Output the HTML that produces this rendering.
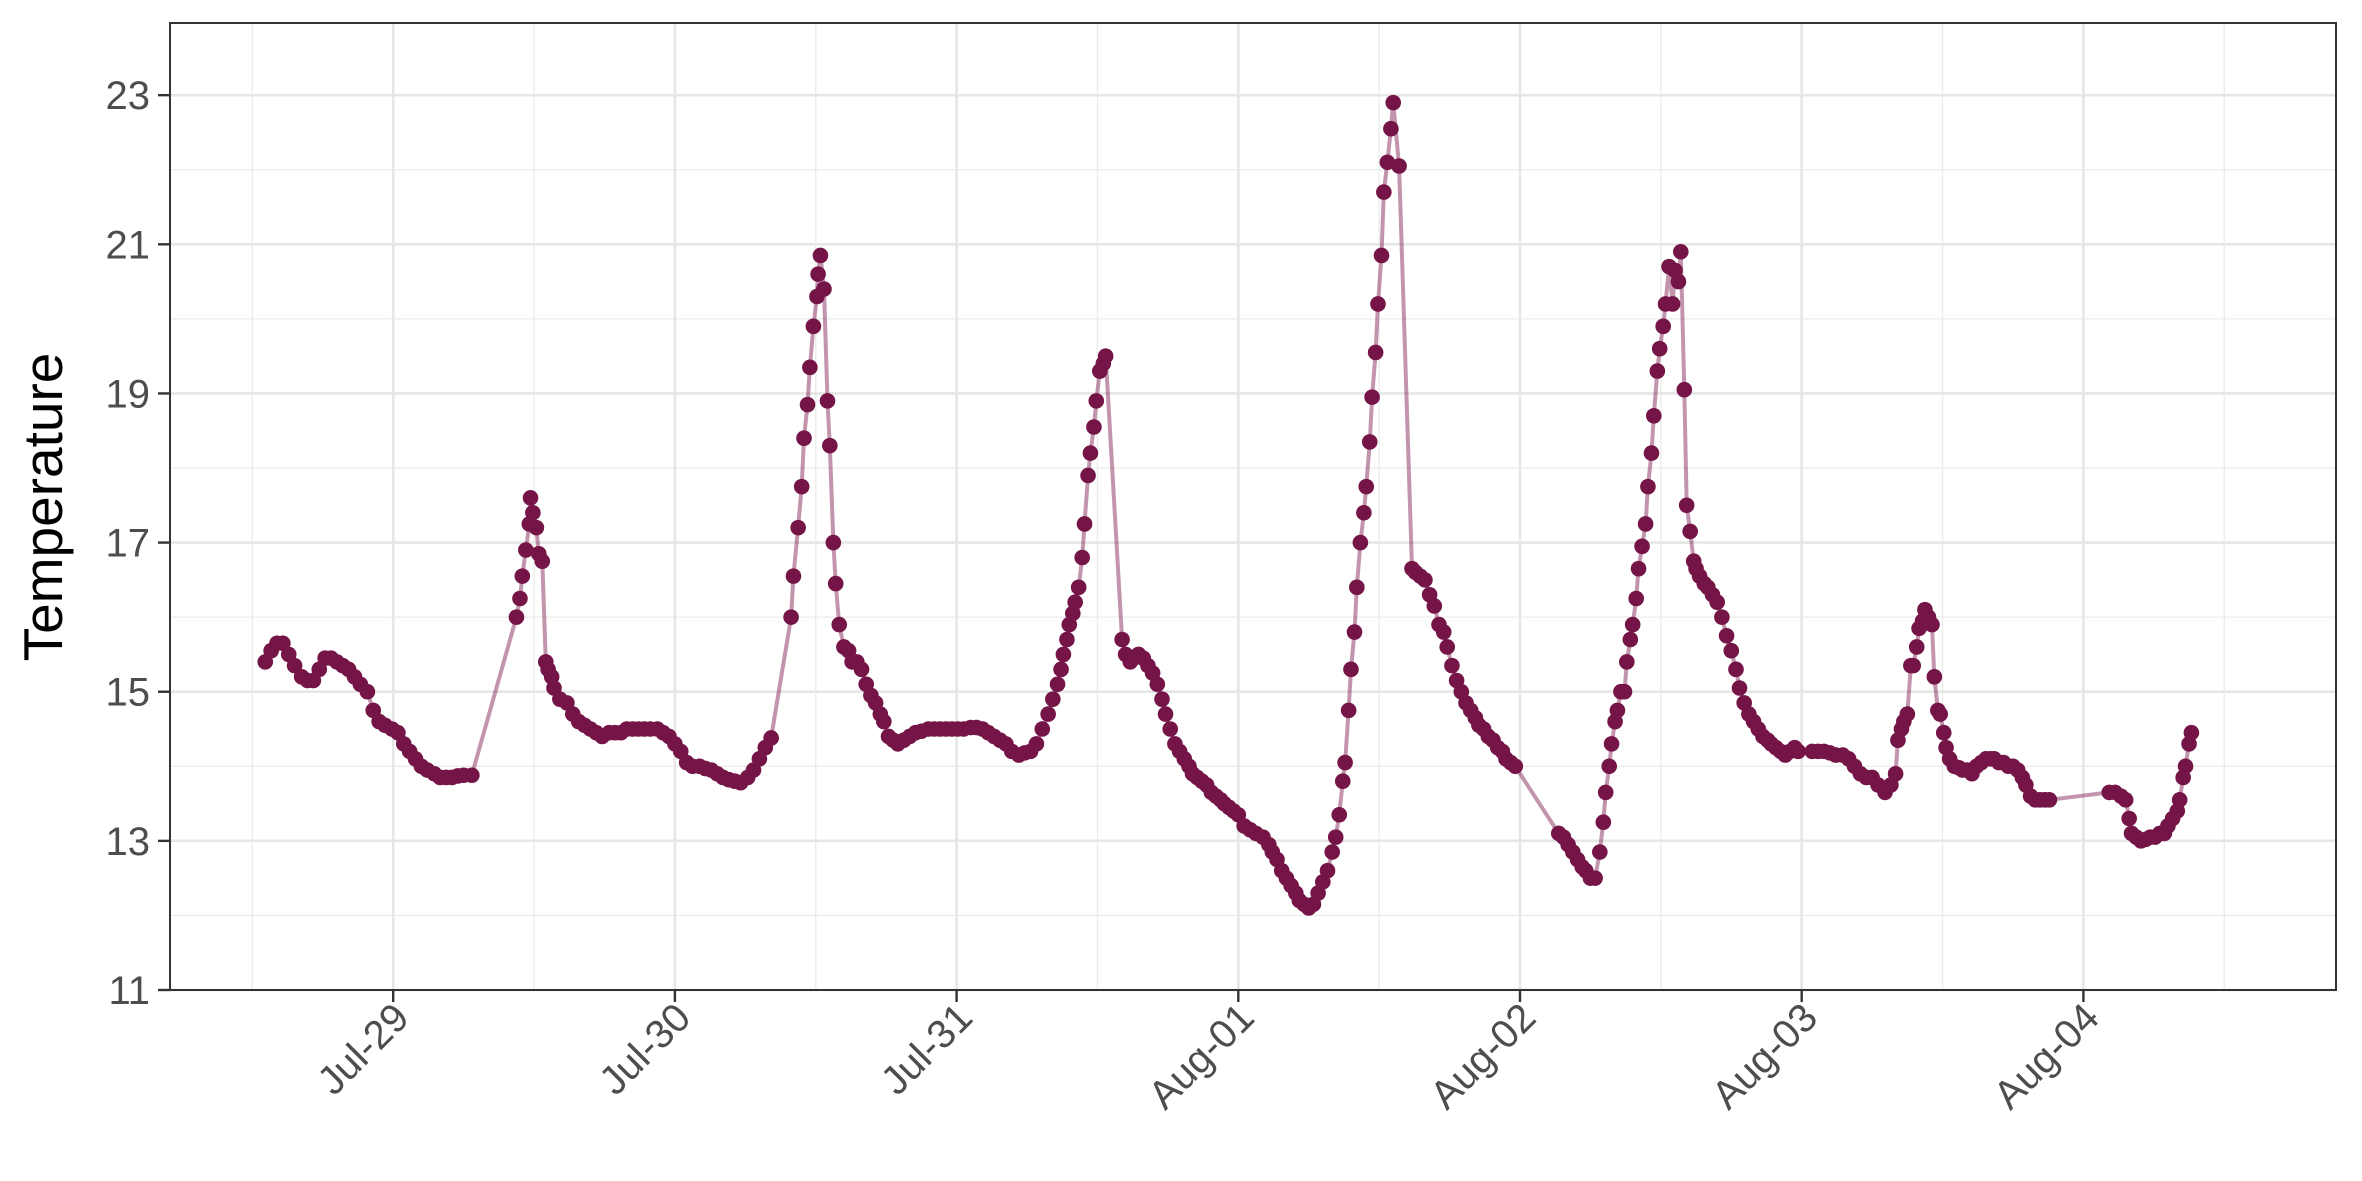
<!DOCTYPE html>
<html><head><meta charset="utf-8"><style>
html,body{margin:0;padding:0;background:#fff;}
svg{display:block;font-family:"Liberation Sans",Arial,sans-serif;}
</style></head><body>
<svg id="chart" width="2362" height="1181" viewBox="0 0 2362 1181" xmlns="http://www.w3.org/2000/svg">
<rect x="0" y="0" width="2362" height="1181" fill="#fff"/>
<g id="grid"></g>
<g id="series"></g>
<rect x="170" y="23" width="2166" height="967" fill="none" stroke="#333" stroke-width="2"/>
<g id="axes"></g>
<text x="0" y="0" transform="translate(62,507) rotate(-90)" text-anchor="middle" font-size="55" fill="#000">Temperature</text>
</svg>
<script>
// hours since Jul-29 00:00
const hours = [
-10.9,-10.4,-9.9,-9.4,-8.9,-8.4,-7.8,-7.3,-6.8,-6.3,-5.8,-5.3,-4.8,-4.3,-3.8,-3.3,-2.8,-2.2,-1.7,-1.2,-0.7,-0.1,0.4,0.9,1.4,1.9,2.4,2.9,3.5,4.0,4.5,5.0,5.5,6.0,6.7,
10.5,10.8,11.0,11.3,11.6,11.7,11.9,12.2,12.4,12.7,13.0,13.2,13.5,13.7,14.2,14.8,15.3,15.8,16.3,16.8,17.3,17.8,18.4,18.9,19.4,19.9,20.4,20.9,21.4,21.9,22.5,23.0,23.5,24.0,24.5,25.0,25.5,26.1,26.6,27.1,27.6,28.1,28.6,29.1,29.6,30.2,30.7,31.2,31.7,32.2,
33.9,34.1,34.5,34.8,35.0,35.3,35.5,35.8,36.1,36.2,36.4,36.7,37.0,37.2,37.5,37.7,38.0,38.4,38.8,39.1,39.5,39.9,40.3,40.7,41.1,41.5,41.8,42.2,42.6,43.0,43.5,44.0,44.5,45.0,45.6,46.1,46.6,47.1,47.6,48.1,48.6,49.2,49.7,50.2,50.7,51.2,51.7,52.2,52.7,53.3,53.8,54.3,54.8,55.3,55.8,56.2,56.6,56.9,57.1,57.4,57.6,57.9,58.1,58.4,58.7,58.9,59.2,59.4,59.7,59.9,60.2,60.5,60.7,62.1,62.4,62.8,63.1,63.5,63.9,64.3,64.7,65.1,65.5,65.8,66.2,66.6,67.0,67.4,67.8,68.1,68.5,68.9,69.3,69.7,70.1,70.5,70.8,71.2,71.6,72.0,72.5,73.0,73.5,74.1,74.6,74.9,75.3,75.7,76.1,76.5,76.9,77.2,77.6,78.0,78.4,78.8,79.2,79.6,80.0,80.3,80.6,80.9,81.1,81.4,81.6,81.9,82.1,82.4,82.7,82.9,83.2,83.4,83.7,83.9,84.2,84.4,84.7,85.0,85.2,85.7,86.8,87.1,87.5,87.9,88.3,88.7,89.1,89.5,89.8,90.2,90.6,91.0,91.4,91.8,92.2,92.5,92.9,93.3,93.7,94.1,94.5,94.8,95.2,95.6,
99.3,99.7,100.1,100.5,100.9,101.3,101.6,102.0,102.4,102.8,103.1,103.3,103.6,103.8,104.1,104.3,104.6,104.9,105.1,105.4,105.6,105.9,106.1,106.4,106.7,106.9,107.2,107.4,107.7,107.9,108.2,108.4,108.7,109.0,109.2,109.5,109.7,110.0,110.2,110.5,110.8,111.0,111.3,111.7,112.0,112.4,112.8,113.2,113.6,114.0,114.4,114.7,115.1,115.5,115.9,116.3,116.7,117.1,117.4,117.8,118.2,118.6,119.0,119.4,119.7,
120.9,121.4,121.9,122.4,122.9,123.5,124.0,124.5,125.0,125.5,126.0,126.5,127.1,127.6,128.0,128.2,128.5,128.7,129.0,129.3,129.5,129.8,130.0,130.3,130.5,130.8,131.1,131.3,131.6,131.8,132.1,132.3,132.6,133.0,133.4,133.7,134.1,134.5,134.9,135.3,135.7,136.1,136.4,136.8,137.2,137.6,138.0,138.4,138.8,139.1,139.5,139.9,140.3,140.7,141.1,
146.2,146.7,147.2,147.6,147.9,148.1,148.5,148.9,149.3,149.7,150.1,150.5,150.9,151.2,151.6,152.0,152.2,152.5,152.7,153.0,153.2
];
const temps = [
15.4,15.55,15.65,15.65,15.5,15.35,15.2,15.15,15.15,15.3,15.45,15.45,15.4,15.35,15.3,15.2,15.1,15.0,14.75,14.6,14.55,14.5,14.45,14.3,14.2,14.1,14.0,13.95,13.9,13.85,13.85,13.85,13.87,13.88,13.88,
16.0,16.25,16.55,16.9,17.25,17.6,17.4,17.2,16.85,16.75,15.4,15.3,15.2,15.05,14.9,14.85,14.7,14.6,14.55,14.5,14.45,14.4,14.45,14.45,14.45,14.5,14.5,14.5,14.5,14.5,14.5,14.45,14.4,14.3,14.2,14.05,14.0,14.0,13.97,13.95,13.9,13.85,13.82,13.8,13.78,13.85,13.95,14.1,14.25,14.38,
16.0,16.55,17.2,17.75,18.4,18.85,19.35,19.9,20.3,20.6,20.85,20.4,18.9,18.3,17.0,16.45,15.9,15.6,15.55,15.4,15.4,15.3,15.1,14.95,14.85,14.7,14.6,14.4,14.35,14.3,14.35,14.4,14.45,14.47,14.5,14.5,14.5,14.5,14.5,14.5,14.5,14.52,14.52,14.5,14.45,14.4,14.35,14.3,14.2,14.15,14.18,14.2,14.3,14.5,14.7,14.9,15.1,15.3,15.5,15.7,15.9,16.05,16.2,16.4,16.8,17.25,17.9,18.2,18.55,18.9,19.3,19.4,19.5,15.7,15.5,15.4,15.45,15.5,15.45,15.35,15.25,15.1,14.9,14.7,14.5,14.3,14.2,14.1,14.0,13.9,13.85,13.8,13.75,13.65,13.6,13.55,13.5,13.45,13.4,13.35,13.2,13.15,13.1,13.05,12.95,12.85,12.75,12.6,12.5,12.4,12.3,12.2,12.15,12.1,12.15,12.3,12.45,12.6,12.85,13.05,13.35,13.8,14.05,14.75,15.3,15.8,16.4,17.0,17.4,17.75,18.35,18.95,19.55,20.2,20.85,21.7,22.1,22.55,22.9,22.05,16.65,16.6,16.55,16.5,16.3,16.15,15.9,15.8,15.6,15.35,15.15,15.0,14.85,14.75,14.65,14.55,14.5,14.4,14.35,14.25,14.2,14.1,14.05,14.0,
13.1,13.05,12.95,12.85,12.75,12.65,12.6,12.5,12.5,12.85,13.25,13.65,14.0,14.3,14.6,14.75,15.0,15.0,15.4,15.7,15.9,16.25,16.65,16.95,17.25,17.75,18.2,18.7,19.3,19.6,19.9,20.2,20.7,20.2,20.65,20.5,20.9,19.05,17.5,17.15,16.75,16.65,16.55,16.45,16.4,16.3,16.2,16.0,15.75,15.55,15.3,15.05,14.85,14.7,14.6,14.5,14.4,14.35,14.3,14.25,14.2,14.15,14.2,14.25,14.2,
14.2,14.2,14.2,14.18,14.15,14.15,14.1,14.0,13.9,13.85,13.85,13.75,13.65,13.75,13.9,14.35,14.5,14.6,14.7,15.35,15.35,15.6,15.85,15.95,16.1,16.0,15.9,15.2,14.75,14.7,14.45,14.25,14.1,14.0,13.98,13.95,13.95,13.9,14.0,14.05,14.1,14.1,14.1,14.05,14.05,14.0,14.0,13.95,13.85,13.75,13.6,13.55,13.55,13.55,13.55,
13.65,13.65,13.6,13.55,13.3,13.1,13.05,13.0,13.02,13.05,13.05,13.1,13.1,13.2,13.3,13.4,13.55,13.85,14.0,14.3,14.45
];
const yTicks = [11,13,15,17,19,21,23];
const yMinor = [12,14,16,18,20,22];
const xTickLabels = ["Jul-29","Jul-30","Jul-31","Aug-01","Aug-02","Aug-03","Aug-04"];
const xTickDays = [0,1,2,3,4,5,6];
const xMinorDays = [-0.5,0.5,1.5,2.5,3.5,4.5,5.5,6.5];

const PL=170, PR=2336, PT=23, PB=990;
function xs(h){ return 393.2 + h/24*281.7; }
function ys(t){ return 990 - (t-11)*74.57; }
const NS="http://www.w3.org/2000/svg";
function mk(tag, attrs, parent){ const e=document.createElementNS(NS,tag); for(const k in attrs) e.setAttribute(k,attrs[k]); parent.appendChild(e); return e; }
const grid=document.getElementById('grid'), axes=document.getElementById('axes'), series=document.getElementById('series');

yMinor.forEach(v=>{ const l=mk('line',{x1:PL,x2:PR,y1:ys(v),y2:ys(v),stroke:'#ebebeb','stroke-width':1.3},grid);

 });
xMinorDays.forEach(d=>{ const l=mk('line',{x1:xs(d*24),x2:xs(d*24),y1:PT,y2:PB,stroke:'#ebebeb','stroke-width':1.3},grid);

 });
yTicks.forEach(v=>{ const l=mk('line',{x1:PL,x2:PR,y1:ys(v),y2:ys(v),stroke:'#e6e6e6','stroke-width':2.6},grid);


const t=mk('line',{x1:PL-12,x2:PL,y1:ys(v),y2:ys(v),stroke:'#333','stroke-width':2.4},axes);


const tx=mk('text',{x:PL-20,y:ys(v)+14,'text-anchor':'end','font-size':40,fill:'#4d4d4d'},axes);
tx.textContent=v;

 });
xTickDays.forEach((d,i)=>{ const x=xs(d*24);
const l=mk('line',{x1:x,x2:x,y1:PT,y2:PB,stroke:'#e6e6e6','stroke-width':2.6},grid);


const t=mk('line',{x1:x,x2:x,y1:PB,y2:PB+12,stroke:'#333','stroke-width':2.4},axes);


const tx=mk('text',{x:0,y:0,'text-anchor':'end','font-size':40,fill:'#4d4d4d',transform:`translate(${x+18},${PB+30}) rotate(-45)`},axes);
tx.textContent=xTickLabels[i];

 });

const pts=hours.map((h,i)=>xs(h).toFixed(1)+','+ys(temps[i]).toFixed(1)).join(' ');
const line=mk('polyline',{points:pts,fill:'none',stroke:'#7a1446','stroke-opacity':0.45,'stroke-width':4,'stroke-linejoin':'round'},series);


hours.forEach((h,i)=>{ const c=mk('circle',{cx:xs(h),cy:ys(temps[i]),r:7.8,fill:'#741447'},series);

 });
</script>
</body></html>
